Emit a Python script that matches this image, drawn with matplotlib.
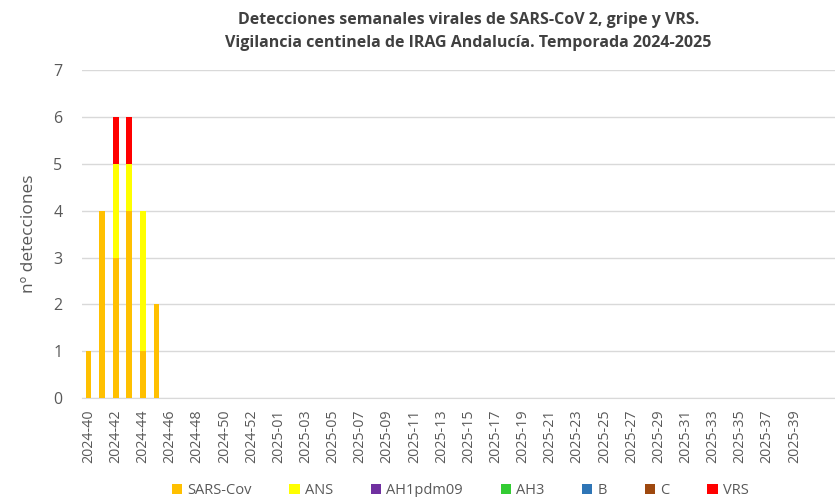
import numpy as np
import matplotlib.pyplot as plt

plt.rcParams['font.family'] = ['Open Sans', 'DejaVu Sans']

# semanas epidemiologicas
weeks = [f"2024-{w}" for w in range(40, 54)] + [f"2025-{w:02d}" for w in range(1, 41)]

sars_cov = [1, 4, 3, 4, 1, 2] + [0] * 48
ans      = [0, 0, 2, 1, 3, 0] + [0] * 48
ah1pdm09 = [0] * 54
ah3      = [0] * 54
b_flu    = [0] * 54
c_flu    = [0] * 54
vrs      = [0, 0, 1, 1, 0, 0] + [0] * 48

series = [
    ("SARS-Cov", sars_cov, "#FFC000"),
    ("ANS", ans, "#FFFF00"),
    ("AH1pdm09", ah1pdm09, "#7030A0"),
    ("AH3", ah3, "#33CC33"),
    ("B", b_flu, "#2E75B6"),
    ("C", c_flu, "#9E480E"),
    ("VRS", vrs, "#FF0000"),
]

fig = plt.figure(figsize=(8.35, 4.97), dpi=100)
ax = fig.add_axes([0.098, 0.199, 0.902, 0.66])

x = np.arange(len(weeks))
bottom = np.zeros(len(weeks))
for name, vals, col in series:
    vals = np.array(vals, dtype=float)
    ax.bar(x, vals, 0.42, bottom=bottom, color=col, label=name, zorder=3)
    bottom += vals

ax.set_xlim(-0.5, 55.0)
ax.set_ylim(0, 7)
ax.set_yticks(range(8))
ax.yaxis.grid(True, color="#D9D9D9", lw=1, zorder=0)
for s in ["top", "right", "left"]:
    ax.spines[s].set_visible(False)
ax.spines["bottom"].set_color("#D9D9D9")

ax.set_xticks(x[::2])
ax.set_xticklabels(weeks[::2], rotation=90, fontsize=10.3, color="#595959")
ax.tick_params(axis="x", length=0, pad=8)
ax.tick_params(axis="y", length=0, labelsize=11.5, labelcolor="#595959", pad=14)

ax.set_ylabel("nº detecciones", fontsize=12.5, color="#595959", labelpad=12)

fig.suptitle("Detecciones semanales virales de SARS-CoV 2, gripe y VRS.\n"
             "Vigilancia centinela de IRAG Andalucía. Temporada 2024-2025",
             x=0.561, y=0.975, fontsize=11.5, fontweight="bold", color="#404040",
             linespacing=1.55)

fig.legend(loc="lower center", bbox_to_anchor=(0.551, -0.028), ncol=7, frameon=False,
           fontsize=10.5, handlelength=0.7, handleheight=0.7, columnspacing=2.6,
           handletextpad=0.35, labelcolor="#595959")

fig.savefig("out.png", dpi=100)
